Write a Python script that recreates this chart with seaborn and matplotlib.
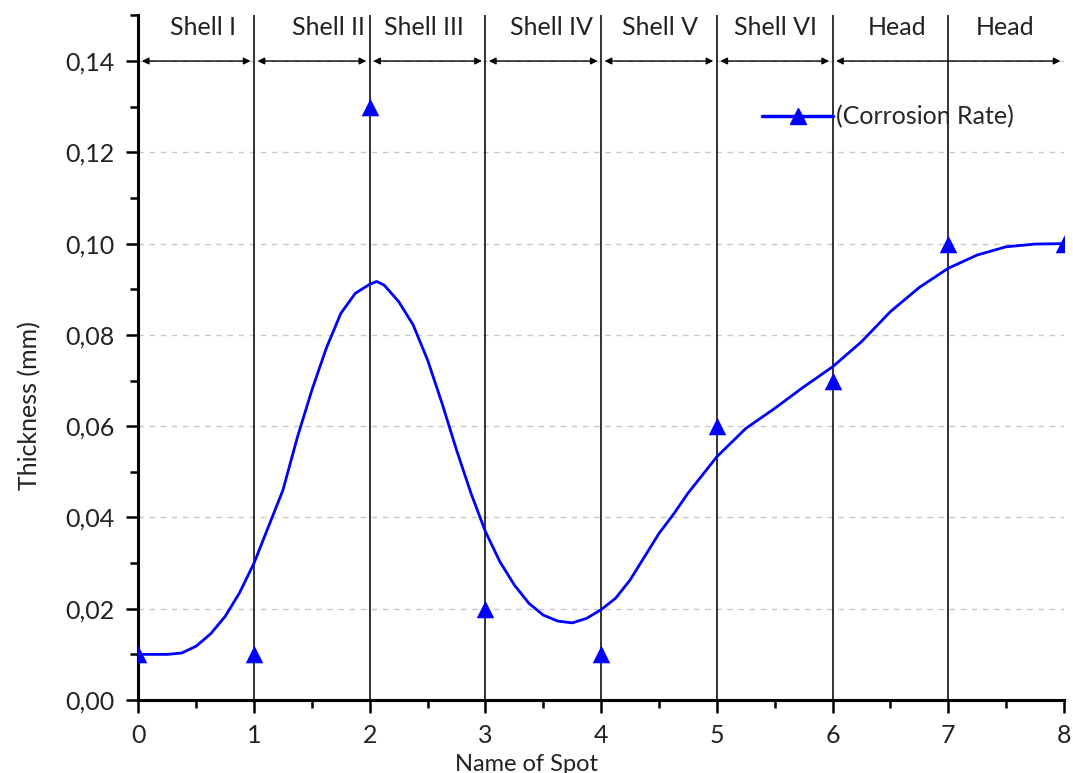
import numpy as np
import pandas as pd
import matplotlib
matplotlib.use("Agg")
import matplotlib.pyplot as plt
from matplotlib.lines import Line2D
from matplotlib.ticker import MultipleLocator, FuncFormatter
import seaborn as sns

# ---- data ----
spot = [0, 1, 2, 3, 4, 5, 6, 7, 8]
corrosion_rate = [0.010, 0.010, 0.130, 0.020, 0.010, 0.060, 0.070, 0.100, 0.100]

# smoothed curve
curve_x = [0.0, 0.125, 0.25, 0.375, 0.5, 0.625, 0.75, 0.875, 1.0, 1.125, 1.25,
           1.375, 1.5, 1.625, 1.75, 1.875, 2.0, 2.06, 2.125, 2.25, 2.375, 2.5,
           2.625, 2.75, 2.875, 3.0, 3.125, 3.25, 3.375, 3.5, 3.625, 3.75, 3.875,
           4.0, 4.125, 4.25, 4.375, 4.5, 4.625, 4.75, 4.875, 5.0, 5.25, 5.5,
           5.75, 6.0, 6.25, 6.5, 6.75, 7.0, 7.25, 7.5, 7.75, 8.0]
curve_y = [0.0100, 0.0100, 0.0100, 0.0103, 0.0118, 0.0145, 0.0183, 0.0235, 0.0300,
           0.0380, 0.0460, 0.0576, 0.0679, 0.0771, 0.0847, 0.0891, 0.0911, 0.0917,
           0.0909, 0.0873, 0.0822, 0.0745, 0.0650, 0.0548, 0.0453, 0.0369, 0.0303,
           0.0252, 0.0212, 0.0186, 0.0173, 0.0169, 0.0179, 0.0198, 0.0223, 0.0263,
           0.0314, 0.0365, 0.0407, 0.0453, 0.0493, 0.0533, 0.0595, 0.0639, 0.0686,
           0.0730, 0.0785, 0.0851, 0.0904, 0.0946, 0.0975, 0.0993, 0.0999, 0.1000]

section_labels = ["Shell I", "Shell II", "Shell III", "Shell IV", "Shell V",
                  "Shell VI", "Head", "Head"]
boundaries = [1, 2, 3, 4, 5, 6, 7]
arrow_spans = [(0, 1), (1, 2), (2, 3), (3, 4), (4, 5), (5, 6), (6, 8)]

# ---- layout ----
label_x = [0.56, 1.64, 2.47, 3.57, 4.51, 5.51, 6.56, 7.49]
label_y = 0.1456

sns.set_theme(style="ticks")
plt.rcParams['font.family'] = ['Lato', 'DejaVu Sans']

fig = plt.figure(figsize=(10.73, 7.73), dpi=100)
ax = fig.add_axes([0.1289, 0.0944, 0.8627, 0.8857])

df_curve = pd.DataFrame({"x": curve_x, "y": curve_y})
df_pts = pd.DataFrame({"x": spot, "y": corrosion_rate})

# grid
for v in np.arange(0.02, 0.141, 0.02):
    ax.axhline(v, color="#c8c8c8", lw=1.0, ls=(0, (4, 4)), zorder=0)

# boundary lines
for b in boundaries:
    ax.axvline(b, color="#111111", lw=1.2, zorder=1)

sns.lineplot(data=df_curve, x="x", y="y", ax=ax, color="#0000ff", lw=2.0,
             sort=False, estimator=None, zorder=3)
sns.scatterplot(data=df_pts, x="x", y="y", ax=ax, color="#0000ff", marker="^",
                s=160, edgecolor="#0000ff", linewidth=0, zorder=4)

# arrows
for a, b in arrow_spans:
    ax.annotate("", xy=(b - 0.03, 0.14), xytext=(a + 0.03, 0.14),
                arrowprops=dict(arrowstyle="<|-|>", color="black", lw=1.0,
                                mutation_scale=10, shrinkA=0, shrinkB=0),
                zorder=5)

for lab, lx in zip(section_labels, label_x):
    ax.text(lx, label_y, lab, ha="center", va="baseline", fontsize=18,
            color="#222222")

ax.set_xlim(0, 8)
ax.set_ylim(0, 0.15)
ax.set_yticks(np.arange(0, 0.141, 0.02))
ax.yaxis.set_minor_locator(MultipleLocator(0.01))
ax.xaxis.set_major_locator(MultipleLocator(1))
ax.xaxis.set_minor_locator(MultipleLocator(0.5))
ax.yaxis.set_major_formatter(FuncFormatter(lambda v, p: f"{v:.2f}".replace(".", ",")))
ax.tick_params(axis="both", which="major", length=9, width=1.8, labelsize=18,
               color="black", labelcolor="#222222", direction="out")
ax.tick_params(axis="x", which="major", pad=8)
ax.tick_params(axis="y", which="major", pad=8)
ax.tick_params(axis="both", which="minor", length=5.5, width=1.8, color="black",
               direction="out")
for s in ["top", "right"]:
    ax.spines[s].set_visible(False)
for s in ["left", "bottom"]:
    ax.spines[s].set_linewidth(2.2)
    ax.spines[s].set_color("black")

ax.set_xlabel("Name of Spot", fontsize=17, color="#222222")
ax.xaxis.set_label_coords(0.419, -0.079)
ax.set_ylabel("Thickness (mm)", fontsize=18, color="#222222")
ax.yaxis.set_label_coords(-0.105, 0.4295)

handle = Line2D([], [], color="#0000ff", lw=2.5, marker="^", markersize=11)
ax.legend([handle], ["(Corrosion Rate)"], loc="center left",
          bbox_to_anchor=(0.674, 0.8516), frameon=False, fontsize=18,
          handlelength=2.85, handletextpad=0.1, borderpad=0, borderaxespad=0)

fig.savefig("out.png", dpi=100)
